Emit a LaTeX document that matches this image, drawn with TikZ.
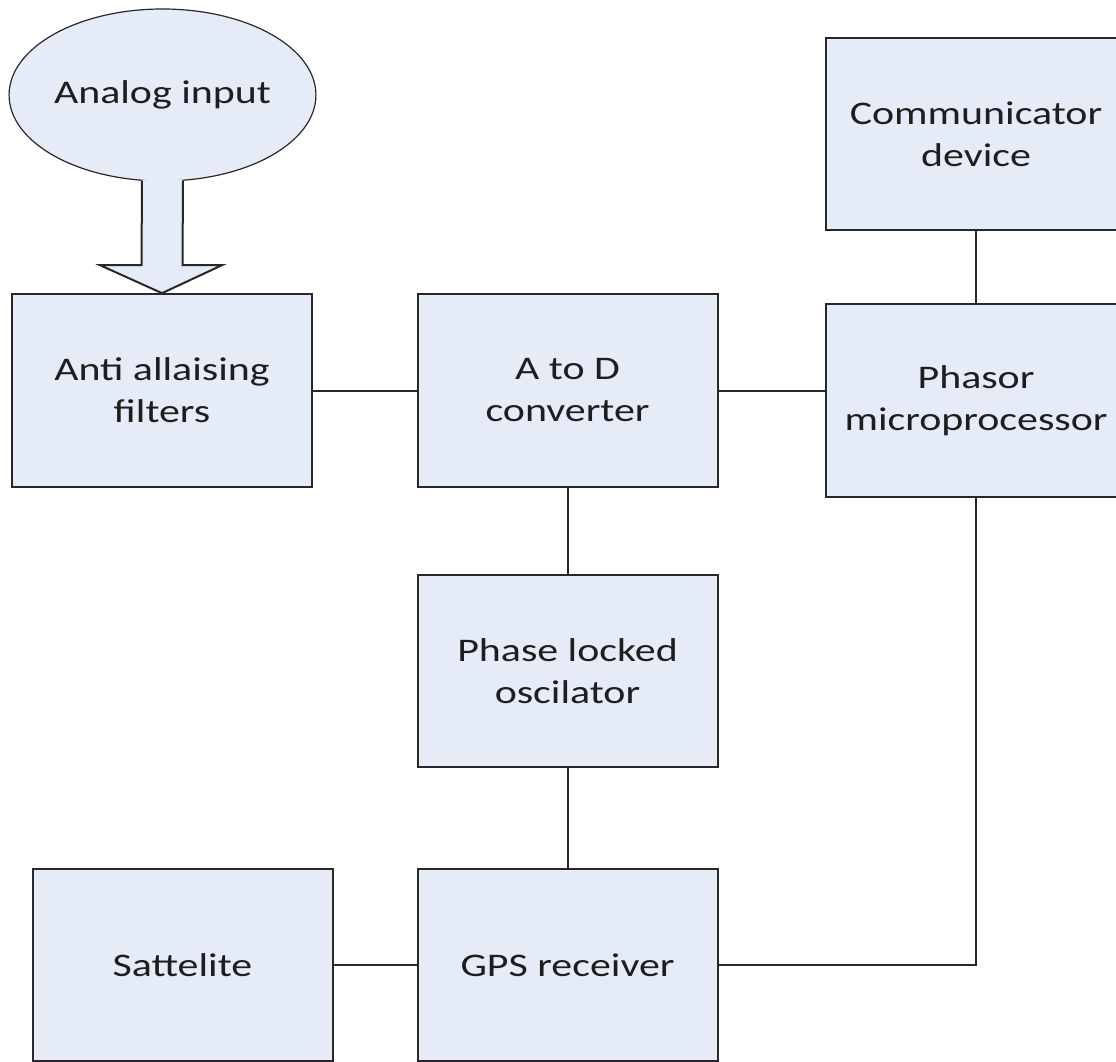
\documentclass[tikz,border=0pt]{standalone}
\usepackage{fontspec}
\setmainfont[FakeStretch=1.27]{Carlito}
\usetikzlibrary{shapes.geometric,calc}
\definecolor{boxfill}{RGB}{229,236,247}
\definecolor{edge}{RGB}{40,40,40}
\definecolor{ink}{RGB}{30,30,30}
\begin{document}
\begin{tikzpicture}[x=0.75pt,y=-0.75pt,
  blockbox/.style={draw=edge, fill=boxfill, line width=1.5pt, inner sep=0pt,
    minimum width=225pt, minimum height=144.5pt, align=center, text=ink,
    font=\fontsize{24.75pt}{31.5pt}\selectfont},
  link/.style={draw=edge, line width=1.5pt}]
\useasboundingbox (0,0) rectangle (1116,1062);
\clip (0,0) rectangle (1116,1062);

% input source and the hollow arrow feeding the filters
\node[ellipse, draw=edge, fill=boxfill, line width=0.9pt, inner sep=0pt,
  minimum width=225.75pt, minimum height=129pt, text=ink,
  font=\fontsize{24.75pt}{31.5pt}\selectfont] (input) at (162.5,95) {Analog input};

% processing blocks
\node[blockbox] (anti)   at (162,390.5)   {Anti allaising\\filters};
\node[blockbox] (adc)    at (567.5,390.5) {A to D\\converter};
\node[blockbox] (comm)   at (976,134)     {Communicator\\device};
\node[blockbox] (phasor) at (976,400.5)   {Phasor\\microprocessor};
\node[blockbox] (pll)    at (567.5,671)   {Phase locked\\oscilator};
\node[blockbox] (sat)    at (182.5,965)   {Sattelite};
\node[blockbox] (gps)    at (567.5,965)   {GPS receiver};

% block arrow from the source down to the filters
\coordinate (tip) at (anti.north);
\fill[boxfill] ($(input.south)+(-20.5,-2)$) -- ($(tip)+(-20.5,-28)$) -- ($(tip)+(-62,-28)$)
  -- (tip) -- ($(tip)+(60,-28)$) -- ($(tip)+(20.5,-28)$) -- ($(input.south)+(20.5,-2)$) -- cycle;
\draw[edge, line width=1.5pt, line join=miter]
  ($(input.south)+(-20.5,-1)$) -- ($(tip)+(-20.5,-28)$) -- ($(tip)+(-62,-28)$)
  -- (tip) -- ($(tip)+(60,-28)$) -- ($(tip)+(20.5,-28)$) -- ($(input.south)+(20.5,-1)$);

% connectors
\draw[link] (anti.east) -- (adc.west);
\draw[link] (adc.east) -- (adc.east -| phasor.west);
\draw[link] (comm.south) -- (phasor.north);
\draw[link] (adc.south) -- (pll.north);
\draw[link] (pll.south) -- (gps.north);
\draw[link] (sat.east) -- (gps.west);
\draw[link] (gps.east) -| (phasor.south);
\end{tikzpicture}
\end{document}
